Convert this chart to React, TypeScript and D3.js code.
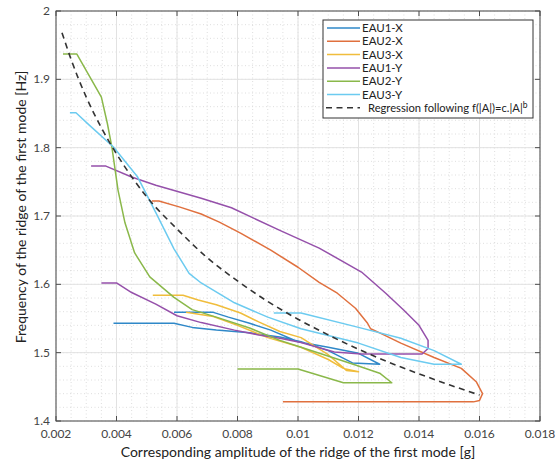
import React from "react";
import * as d3 from "d3";

// ---- data (amplitude [g], frequency [Hz]) ----
const EAU1_X: [number, number][] = [
  [0.0039, 1.543], [0.0059, 1.543], [0.0065, 1.537], [0.0073, 1.533], [0.0084, 1.529],
  [0.0094, 1.523], [0.0101, 1.516], [0.011, 1.503], [0.0118, 1.485], [0.0127, 1.483],
  [0.0120, 1.499], [0.0110, 1.508], [0.0100, 1.516], [0.0091, 1.533], [0.0084, 1.543],
  [0.0077, 1.552], [0.0072, 1.559], [0.0059, 1.559],
];
const EAU2_X: [number, number][] = [
  [0.00517, 1.722], [0.0054, 1.722], [0.0061, 1.713], [0.0068, 1.703], [0.0074, 1.691],
  [0.0081, 1.675], [0.0091, 1.65], [0.01, 1.625], [0.0107, 1.603], [0.0113, 1.587],
  [0.0119, 1.565], [0.0123, 1.543], [0.0124, 1.535], [0.0127, 1.529], [0.0134, 1.514],
  [0.0145, 1.493], [0.0154, 1.477], [0.0159, 1.457], [0.0161, 1.44], [0.016, 1.43],
  [0.0158, 1.428], [0.0095, 1.428],
];
const EAU3_X: [number, number][] = [
  [0.0052, 1.584], [0.0062, 1.584], [0.0067, 1.577], [0.0073, 1.57], [0.0081, 1.558],
  [0.0087, 1.545], [0.0094, 1.531], [0.0101, 1.522], [0.011, 1.497], [0.0116, 1.474],
  [0.012, 1.472], [0.0115, 1.477], [0.011, 1.49], [0.0101, 1.508], [0.009, 1.522],
  [0.008, 1.54], [0.0072, 1.553], [0.0063, 1.559],
];
const EAU1_Y: [number, number][] = [
  [0.0035, 1.602], [0.004, 1.602], [0.0045, 1.588], [0.0053, 1.571], [0.006, 1.554],
  [0.0068, 1.544], [0.0079, 1.533], [0.0087, 1.526], [0.0094, 1.521], [0.0101, 1.515],
  [0.0112, 1.501], [0.0121, 1.498], [0.0141, 1.498], [0.0143, 1.506], [0.0143, 1.518],
  [0.014, 1.54], [0.0135, 1.562], [0.0129, 1.587], [0.0121, 1.618], [0.0107, 1.653],
  [0.0094, 1.679], [0.0078, 1.712], [0.0068, 1.726], [0.0053, 1.745], [0.0045, 1.757],
  [0.00365, 1.773], [0.00316, 1.773],
];
const EAU2_Y: [number, number][] = [
  [0.00223, 1.937], [0.00269, 1.937], [0.0031, 1.905], [0.0035, 1.874], [0.0037, 1.835],
  [0.00385, 1.8], [0.00405, 1.738], [0.00428, 1.69], [0.0046, 1.646], [0.0051, 1.611],
  [0.0059, 1.581], [0.0065, 1.563], [0.0073, 1.552], [0.0084, 1.536], [0.0094, 1.518],
  [0.0101, 1.508], [0.0119, 1.482], [0.0127, 1.47], [0.0131, 1.456], [0.0115, 1.456],
  [0.01, 1.476], [0.008, 1.476],
];
const EAU3_Y: [number, number][] = [
  [0.00246, 1.851], [0.00266, 1.851], [0.0031, 1.833], [0.0039, 1.801], [0.0047, 1.757],
  [0.0053, 1.705], [0.0059, 1.652], [0.0064, 1.616], [0.0068, 1.602], [0.0079, 1.573],
  [0.009, 1.552], [0.0101, 1.535], [0.012, 1.514], [0.0134, 1.493], [0.0145, 1.483],
  [0.0154, 1.483], [0.0145, 1.503], [0.0134, 1.521], [0.012, 1.537], [0.0101, 1.558],
  [0.0092, 1.558],
];
const REGRESSION: [number, number][] = [
  [0.0022, 1.968], [0.0025, 1.929], [0.003, 1.874], [0.0035, 1.829], [0.004, 1.791],
  [0.005, 1.728], [0.006, 1.681], [0.007, 1.639], [0.008, 1.605], [0.009, 1.575],
  [0.01, 1.549], [0.011, 1.526], [0.012, 1.505], [0.013, 1.486], [0.014, 1.469],
  [0.015, 1.453], [0.016, 1.438],
];

const SERIES_NAMES = ["EAU1-X", "EAU2-X", "EAU3-X", "EAU1-Y", "EAU2-Y", "EAU3-Y"];
const SERIES_DATA = [EAU1_X, EAU2_X, EAU3_X, EAU1_Y, EAU2_Y, EAU3_Y];
const SERIES_COLORS = ["#2f88c8", "#e0703e", "#f0bd3c", "#9550aa", "#8ab84a", "#6ccbf0"];
const REGRESSION_LABEL = "Regression following f(|A|)=c.|A|";

const X_TICKS = [0.002, 0.004, 0.006, 0.008, 0.01, 0.012, 0.014, 0.016, 0.018];
const Y_TICKS = [1.4, 1.5, 1.6, 1.7, 1.8, 1.9, 2];
const X_LABEL = "Corresponding amplitude of the ridge of the first mode [g]";
const Y_LABEL = "Frequency of the ridge of the first mode [Hz]";

const W = 557, H = 468;
const M = { left: 56, right: 540, top: 11, bottom: 421 };
const FONT = "Lato, 'Open Sans', sans-serif";

export default function App() {
  const x = d3.scaleLinear().domain([0.002, 0.018]).range([M.left, M.right]);
  const y = d3.scaleLinear().domain([1.4, 2]).range([M.bottom, M.top]);
  const line = d3.line<[number, number]>().x(d => x(d[0])).y(d => y(d[1]));
  const smooth = d3.line<[number, number]>().x(d => x(d[0])).y(d => y(d[1])).curve(d3.curveMonotoneX);
  const xMinor = d3.range(0, 33).map(i => 0.002 + i * 0.0005);
  const yMinor = d3.range(0, 31).map(i => 1.4 + i * 0.02);
  const tk = 5;
  const lg = { x: 323, y: 20, w: 210, h: 98 };
  const rowY = (i: number) => lg.y + 8 + i * 13.3;

  return (
    <svg width={W} height={H} style={{ position: "absolute", left: 0, top: 0, background: "#fff" }}
      fontFamily={FONT}>
      <rect x={0} y={0} width={W} height={H} fill="#fff" />
      {/* minor grid */}
      <g stroke="#d6d6d6" strokeWidth={0.8} strokeDasharray="1,2.5">
        {xMinor.map((v, i) => (
          <line key={"xm" + i} x1={x(v)} x2={x(v)} y1={M.top} y2={M.bottom} />
        ))}
        {yMinor.map((v, i) => (
          <line key={"ym" + i} x1={M.left} x2={M.right} y1={y(v)} y2={y(v)} />
        ))}
      </g>
      {/* major grid */}
      <g stroke="#e2e2e2" strokeWidth={1}>
        {X_TICKS.map((v, i) => (
          <line key={"xg" + i} x1={x(v)} x2={x(v)} y1={M.top} y2={M.bottom} />
        ))}
        {Y_TICKS.map((v, i) => (
          <line key={"yg" + i} x1={M.left} x2={M.right} y1={y(v)} y2={y(v)} />
        ))}
      </g>
      {/* series */}
      <g fill="none" strokeWidth={1.5} strokeLinejoin="round">
        {SERIES_DATA.map((s, i) => (
          <path key={SERIES_NAMES[i]} d={line(s) || ""} stroke={SERIES_COLORS[i]} />
        ))}
        <path d={smooth(REGRESSION) || ""} stroke="#333" strokeWidth={1.6}
          strokeDasharray="6,4.5" />
      </g>
      {/* axes box */}
      <rect x={M.left} y={M.top} width={M.right - M.left} height={M.bottom - M.top}
        fill="none" stroke="#4d4d4d" strokeWidth={1} />
      <g stroke="#4d4d4d" strokeWidth={1}>
        {X_TICKS.map((v, i) => (
          <g key={"xt" + i}>
            <line x1={x(v)} x2={x(v)} y1={M.bottom} y2={M.bottom - tk} />
            <line x1={x(v)} x2={x(v)} y1={M.top} y2={M.top + tk} />
          </g>
        ))}
        {Y_TICKS.map((v, i) => (
          <g key={"yt" + i}>
            <line x1={M.left} x2={M.left + tk} y1={y(v)} y2={y(v)} />
            <line x1={M.right} x2={M.right - tk} y1={y(v)} y2={y(v)} />
          </g>
        ))}
      </g>
      {/* tick labels */}
      <g fill="#444" fontSize={12}>
        {X_TICKS.map((v, i) => (
          <text key={"xl" + i} x={x(v)} y={M.bottom + 17} textAnchor="middle">{String(v)}</text>
        ))}
        {Y_TICKS.map((v, i) => (
          <text key={"yl" + i} x={M.left - 6} y={y(v) + 4} textAnchor="end">{String(v)}</text>
        ))}
      </g>
      {/* axis labels */}
      <text x={(M.left + M.right) / 2} y={457} textAnchor="middle" fontSize={14} fill="#222">{X_LABEL}</text>
      <text transform={`translate(26,${207}) rotate(-90)`} textAnchor="middle" fontSize={14} fill="#222">{Y_LABEL}</text>
      {/* legend */}
      <rect x={lg.x} y={lg.y} width={lg.w} height={lg.h} fill="#fff" stroke="#333" strokeWidth={1} />
      {SERIES_NAMES.map((n, i) => (
        <g key={"lg" + i}>
          <line x1={327} x2={360} y1={rowY(i)} y2={rowY(i)} stroke={SERIES_COLORS[i]} strokeWidth={1.5} />
          <text x={362} y={rowY(i) + 4} fontSize={11.5} fill="#222">{n}</text>
        </g>
      ))}
      <line x1={326} x2={360} y1={rowY(6)} y2={rowY(6)} stroke="#333" strokeWidth={1.6} strokeDasharray="6,4.5" />
      <text x={368} y={rowY(6) + 4} fontSize={11.2} fill="#222">
        {REGRESSION_LABEL}
        <tspan dy={-4} fontSize={8.5}>b</tspan>
      </text>
    </svg>
  );
}
